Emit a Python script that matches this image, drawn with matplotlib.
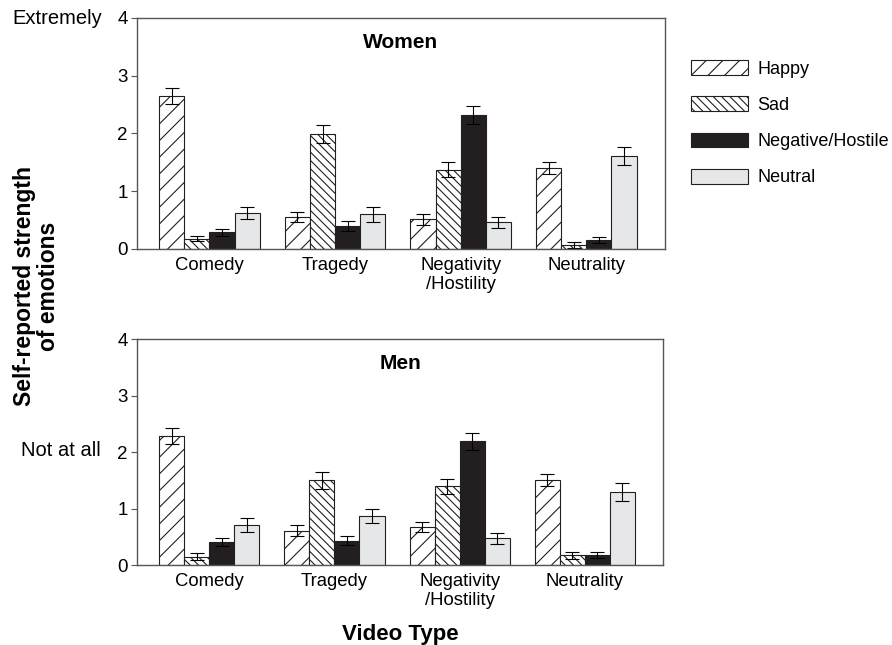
import matplotlib.pyplot as plt
import numpy as np
from matplotlib.patches import Patch

plt.rcParams['font.family'] = ['Liberation Sans', 'DejaVu Sans']
plt.rcParams['hatch.linewidth'] = 0.8

videos = ["Comedy", "Tragedy", "Negativity\n/Hostility", "Neutrality"]
emotions = ["Happy", "Sad", "Negative/Hostile", "Neutral"]

# rows = emotion, columns = video type
women = [
    [2.65, 0.55, 0.51, 1.40],
    [0.18, 1.99, 1.37, 0.07],
    [0.29, 0.40, 2.32, 0.16],
    [0.62, 0.60, 0.46, 1.61],
]
women_err = [
    [0.14, 0.09, 0.10, 0.10],
    [0.05, 0.16, 0.13, 0.05],
    [0.06, 0.09, 0.16, 0.05],
    [0.11, 0.13, 0.09, 0.16],
]
men = [
    [2.28, 0.61, 0.68, 1.50],
    [0.15, 1.50, 1.39, 0.17],
    [0.41, 0.43, 2.19, 0.18],
    [0.71, 0.87, 0.47, 1.29],
]
men_err = [
    [0.14, 0.09, 0.09, 0.11],
    [0.06, 0.15, 0.13, 0.06],
    [0.065, 0.08, 0.15, 0.05],
    [0.12, 0.12, 0.09, 0.16],
]

faces = ["white", "white", "#231f20", "#e6e7e8"]
hatches = ["//", "\\\\\\\\", None, None]
edge = "#231f20"

fig = plt.figure(figsize=(8.92, 6.45), dpi=100)
ax1 = fig.add_axes([0.1536, 0.614, 0.592, 0.3584])
ax2 = fig.add_axes([0.1536, 0.124, 0.590, 0.3504])

x = np.arange(len(videos))
w = 0.2

def draw(ax, vals, errs, title, ty):
    for i in range(len(emotions)):
        pos = x - 1.5 * w + i * w
        ax.bar(pos, vals[i], w, color=faces[i], edgecolor=edge,
               hatch=hatches[i], linewidth=0.8, label=emotions[i])
        ax.errorbar(pos, vals[i], yerr=errs[i], fmt="none", ecolor="black",
                    elinewidth=0.8, capsize=5, capthick=0.8)
    ax.set_xlim(-0.577, 3.627)
    ax.set_ylim(0, 4)
    ax.set_yticks([0, 1, 2, 3, 4])
    ax.set_xticks(x)
    ax.set_xticklabels(videos, fontsize=13.3, va="top", linespacing=1.1)
    ax.tick_params(axis="x", length=0, pad=6)
    ax.tick_params(axis="y", labelsize=13.5, length=4, width=0.8,
                   color="#555555", pad=2.5)
    for s in ax.spines.values():
        s.set_color("#555555")
        s.set_linewidth(1.0)
    ax.text(0.5, ty, title, transform=ax.transAxes, ha="center",
            va="baseline", fontsize=15, fontweight="bold")

draw(ax1, women, women_err, "Women", 0.87)
draw(ax2, men, men_err, "Men", 0.866)

handles = [Patch(facecolor=faces[i], edgecolor=edge, hatch=hatches[i],
                 linewidth=0.8, label=emotions[i]) for i in range(len(emotions))]
fig.legend(handles=handles, loc="upper left", bbox_to_anchor=(0.7747, 0.907),
           frameon=False, fontsize=13, handlelength=3.16, handleheight=0.89,
           labelspacing=1.03, handletextpad=0.5, borderaxespad=0, borderpad=0)

fig.text(0.064, 0.972, "Extremely", ha="center", va="center", fontsize=14.5)
fig.text(0.0684, 0.3008, "Not at all", ha="center", va="center", fontsize=14.5)
fig.text(0.041, 0.556, "Self-reported strength\nof emotions", rotation=90,
         ha="center", va="center", fontsize=16.5, fontweight="bold",
         linespacing=1.1)
fig.text(0.4484, 0.0085, "Video Type", ha="center", va="baseline", fontsize=16,
         fontweight="bold")

fig.savefig("out.png", dpi=100, facecolor="white")
